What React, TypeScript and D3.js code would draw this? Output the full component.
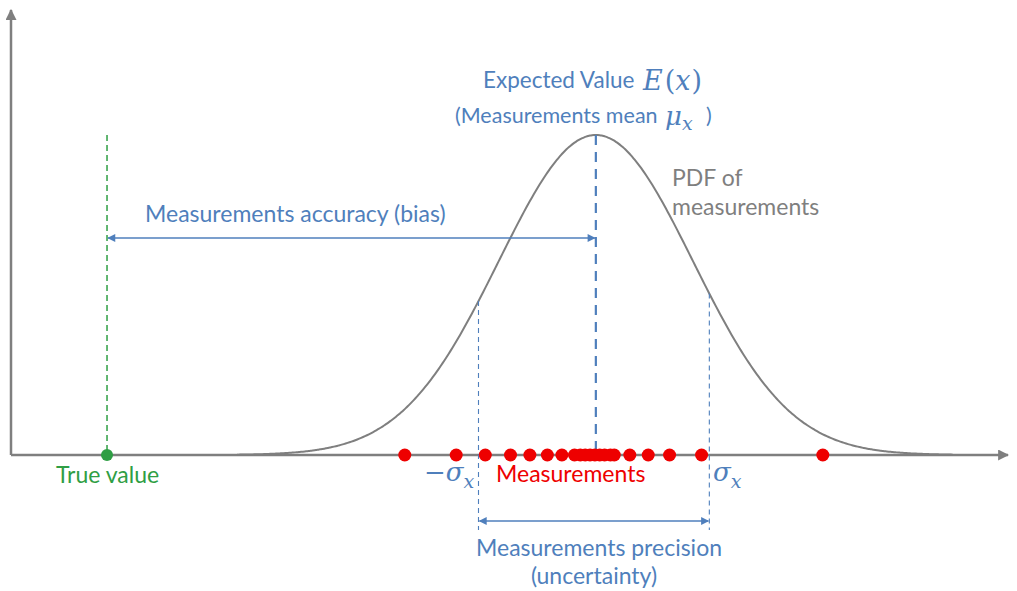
import React from "react";
import * as d3 from "d3";

// values in axis units (1 unit = one standard deviation of the PDF)
const trueValue = 0.99;
const meanValue = 6.03;
const pdfSd = 1.0;
const sigmaMarks = [4.82, 7.2];
const measurements = [
  4.06, 4.59, 4.89, 5.15, 5.35, 5.53, 5.68, 5.81, 5.87, 5.92, 5.97, 6.02,
  6.07, 6.12, 6.18, 6.22, 6.38, 6.57, 6.79, 7.12, 8.37,
];
const xDomain = [0, 10.3];

const W = 1017;
const H = 591;
const BLUE = "#4f7fbc";
const GRAY = "#7f7f7f";
const GREEN = "#2f9e44";
const RED = "#ee0000";
const FONT = "Lato, 'Open Sans', sans-serif";
const MATH = "'DejaVu Serif', serif";

const App = () => {
  const x = d3.scaleLinear().domain(xDomain).range([11, 1010]);
  const y = d3.scaleLinear().domain([0, 1]).range([455, 135]);
  const density = (v: number) => Math.exp(-0.5 * ((v - meanValue) / pdfSd) ** 2);

  const curvePts = d3.range(meanValue - 3.7, meanValue + 3.7, 0.02).map((v) => [v, density(v)]);
  const line = d3
    .line<number[]>()
    .x((d) => x(d[0]))
    .y((d) => y(d[1]))
    .curve(d3.curveBasis);

  const base = y(0);
  const peak = y(1);
  const accY = 238;
  const precY = 521;

  return (
    <svg width={W} height={H} style={{ position: "absolute", left: 0, top: 0, background: "#fff" }}>
      <defs>
        <marker id="axHead" viewBox="0 0 10 10" refX="9" refY="5" markerWidth="4.4" markerHeight="4.4" orient="auto">
          <path d="M0,0 L10,5 L0,10 z" fill={GRAY} />
        </marker>
        <marker id="blueEnd" viewBox="0 0 10 10" refX="9" refY="5" markerWidth="9" markerHeight="8" orient="auto" markerUnits="userSpaceOnUse">
          <path d="M0,0 L10,5 L0,10 z" fill={BLUE} />
        </marker>
        <marker id="blueStart" viewBox="0 0 10 10" refX="1" refY="5" markerWidth="9" markerHeight="8" orient="auto" markerUnits="userSpaceOnUse">
          <path d="M10,0 L0,5 L10,10 z" fill={BLUE} />
        </marker>
      </defs>

      {/* axes */}
      <line x1={11} y1={base} x2={11} y2={10} stroke={GRAY} strokeWidth={2.5} markerEnd="url(#axHead)" />
      <line x1={11} y1={base} x2={1008} y2={base} stroke={GRAY} strokeWidth={2.5} markerEnd="url(#axHead)" />

      {/* PDF curve */}
      <path d={line(curvePts) || ""} fill="none" stroke={GRAY} strokeWidth={2} />

      {/* true value marker */}
      <line x1={x(trueValue)} y1={peak} x2={x(trueValue)} y2={base} stroke={GREEN} strokeWidth={1.5} strokeDasharray="6,4" />

      {/* mean */}
      <line x1={x(meanValue)} y1={peak} x2={x(meanValue)} y2={base} stroke={BLUE} strokeWidth={2.2} strokeDasharray="10,7" />

      {/* sigma markers */}
      {sigmaMarks.map((s) => (
        <line key={s} x1={x(s)} y1={y(density(s))} x2={x(s)} y2={530} stroke={BLUE} strokeWidth={1.1} strokeDasharray="5,4" />
      ))}

      {/* accuracy arrow */}
      <line x1={x(trueValue) + 1} y1={accY} x2={x(meanValue) - 1} y2={accY} stroke={BLUE} strokeWidth={1.6}
        markerStart="url(#blueStart)" markerEnd="url(#blueEnd)" />
      {/* precision arrow */}
      <line x1={x(sigmaMarks[0]) + 1} y1={precY} x2={x(sigmaMarks[1]) - 1} y2={precY} stroke={BLUE} strokeWidth={1.6}
        markerStart="url(#blueStart)" markerEnd="url(#blueEnd)" />

      {/* measurements */}
      {measurements.map((m, i) => (
        <circle key={i} cx={x(m)} cy={base} r={6.5} fill={RED} />
      ))}
      <circle cx={x(trueValue)} cy={base} r={6} fill={GREEN} />

      {/* labels */}
      <g fontFamily={FONT} fontSize={23}>
        <text x={483} y={88} fill={BLUE} fontSize={22.5}>Expected Value</text>
        <text x={643} y={90} fill={BLUE} fontFamily={MATH} fontSize={27}>
          <tspan fontStyle="italic">E</tspan>
          <tspan dx={2}>(</tspan>
          <tspan fontStyle="italic">x</tspan>
          <tspan dx={1}>)</tspan>
        </text>
        <text x={455} y={123} fill={BLUE} fontSize={21.5}>(Measurements mean</text>
        <text x={665} y={125} fill={BLUE} fontFamily={MATH} fontStyle="italic" fontSize={26}>
          μ<tspan dy={5} fontSize={19}>x</tspan>
        </text>
        <text x={706} y={123} fill={BLUE} fontSize={21.5}>)</text>
        <text x={145} y={222} fill={BLUE}>Measurements accuracy (bias)</text>
        <text x={672} y={186} fill={GRAY}>PDF of</text>
        <text x={672} y={215} fill={GRAY}>measurements</text>
        <text x={56} y={483} fill={GREEN}>True value</text>
        <text x={496} y={482} fill={RED}>Measurements</text>
        <text x={424} y={481} fill={BLUE} fontFamily={MATH} fontStyle="italic" fontSize={26}>
          −σ<tspan dy={7} fontSize={19}>x</tspan>
        </text>
        <text x={713} y={481} fill={BLUE} fontFamily={MATH} fontStyle="italic" fontSize={26}>
          σ<tspan dy={7} fontSize={19}>x</tspan>
        </text>
        <text x={476} y={556} fill={BLUE}>Measurements precision</text>
        <text x={594} y={584} fill={BLUE} textAnchor="middle">(uncertainty)</text>
      </g>
    </svg>
  );
};

export default App;
